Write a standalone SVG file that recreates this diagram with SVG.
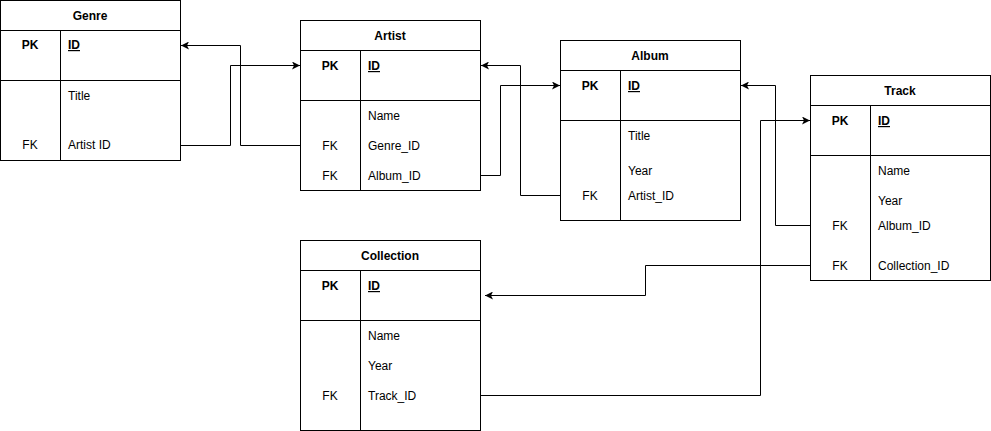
<svg xmlns="http://www.w3.org/2000/svg" width="991" height="431" viewBox="0 0 991 431">
<style>
.box{fill:#fff;stroke:#000;stroke-width:1}
.ln{stroke:#000;stroke-width:1;fill:none}
text{font-family:"Liberation Sans",Arial,sans-serif;font-size:12px;fill:#000}
.h{font-weight:bold;text-anchor:middle}
.pk{font-weight:bold;text-anchor:middle}
.idf{font-weight:bold;text-decoration:underline}
.c{text-anchor:middle}
.edge{stroke:#000;stroke-width:1;fill:none;marker-end:url(#arr)}
</style>
<defs>
<marker id="arr" markerUnits="userSpaceOnUse" viewBox="0 0 8 8" refX="8" refY="4" markerWidth="8" markerHeight="8" orient="auto">
<path d="M0,0 L8,4 L0,8 L2,4 z" fill="#000"/>
</marker>
</defs>
<g id="connectors">
<path class="edge" d="M300.5,145.5 H240.5 V45.5 H181"/>
<path class="edge" d="M180.5,145.5 H230.5 V65.5 H300"/>
<path class="edge" d="M480.5,175.5 H500.5 V85.5 H560"/>
<path class="edge" d="M560.5,195.5 H520.5 V65.5 H481"/>
<path class="edge" d="M810.5,225.5 H775.5 V85.5 H741"/>
<path class="edge" d="M480.5,395.5 H760.5 V120.5 H810"/>
<path class="edge" d="M810.5,265.5 H645.5 V295.5 H485"/>
</g>
<g id="genre">
<rect class="box" x="0.5" y="0.5" width="180" height="160"/>
<path class="ln" d="M0.5,30.5 H180.5 M0.5,80.5 H180.5 M60.5,30.5 V160.5"/>
<text class="h" x="90" y="20">Genre</text>
<text class="pk" x="30" y="49">PK</text>
<text class="idf" x="68" y="49">ID</text>
<text x="68" y="100">Title</text>
<text class="c" x="30" y="149">FK</text>
<text x="68" y="149">Artist ID</text>
</g>
<g id="artist">
<rect class="box" x="300.5" y="20.5" width="180" height="170"/>
<path class="ln" d="M300.5,50.5 H480.5 M300.5,100.5 H480.5 M360.5,50.5 V190.5"/>
<text class="h" x="390" y="40">Artist</text>
<text class="pk" x="330" y="70">PK</text>
<text class="idf" x="368" y="70">ID</text>
<text x="368" y="120">Name</text>
<text class="c" x="330" y="150">FK</text>
<text x="368" y="150">Genre_ID</text>
<text class="c" x="330" y="180">FK</text>
<text x="368" y="180">Album_ID</text>
</g>
<g id="album">
<rect class="box" x="560.5" y="40.5" width="180" height="180"/>
<path class="ln" d="M560.5,70.5 H740.5 M560.5,120.5 H740.5 M620.5,70.5 V220.5"/>
<text class="h" x="650" y="60">Album</text>
<text class="pk" x="590" y="90">PK</text>
<text class="idf" x="628" y="90">ID</text>
<text x="628" y="140">Title</text>
<text x="628" y="175">Year</text>
<text class="c" x="590" y="200">FK</text>
<text x="628" y="200">Artist_ID</text>
</g>
<g id="track">
<rect class="box" x="810.5" y="75.5" width="180" height="205"/>
<path class="ln" d="M810.5,105.5 H990.5 M810.5,155.5 H990.5 M870.5,105.5 V280.5"/>
<text class="h" x="900" y="95">Track</text>
<text class="pk" x="840" y="125">PK</text>
<text class="idf" x="878" y="125">ID</text>
<text x="878" y="175">Name</text>
<text x="878" y="205">Year</text>
<text class="c" x="840" y="230">FK</text>
<text x="878" y="230">Album_ID</text>
<text class="c" x="840" y="270">FK</text>
<text x="878" y="270">Collection_ID</text>
</g>
<g id="collection">
<rect class="box" x="300.5" y="240.5" width="180" height="190"/>
<path class="ln" d="M300.5,270.5 H480.5 M300.5,320.5 H480.5 M360.5,270.5 V430.5"/>
<text class="h" x="390" y="260">Collection</text>
<text class="pk" x="330" y="290">PK</text>
<text class="idf" x="368" y="290">ID</text>
<text x="368" y="340">Name</text>
<text x="368" y="370">Year</text>
<text class="c" x="330" y="400">FK</text>
<text x="368" y="400">Track_ID</text>
</g>
</svg>
